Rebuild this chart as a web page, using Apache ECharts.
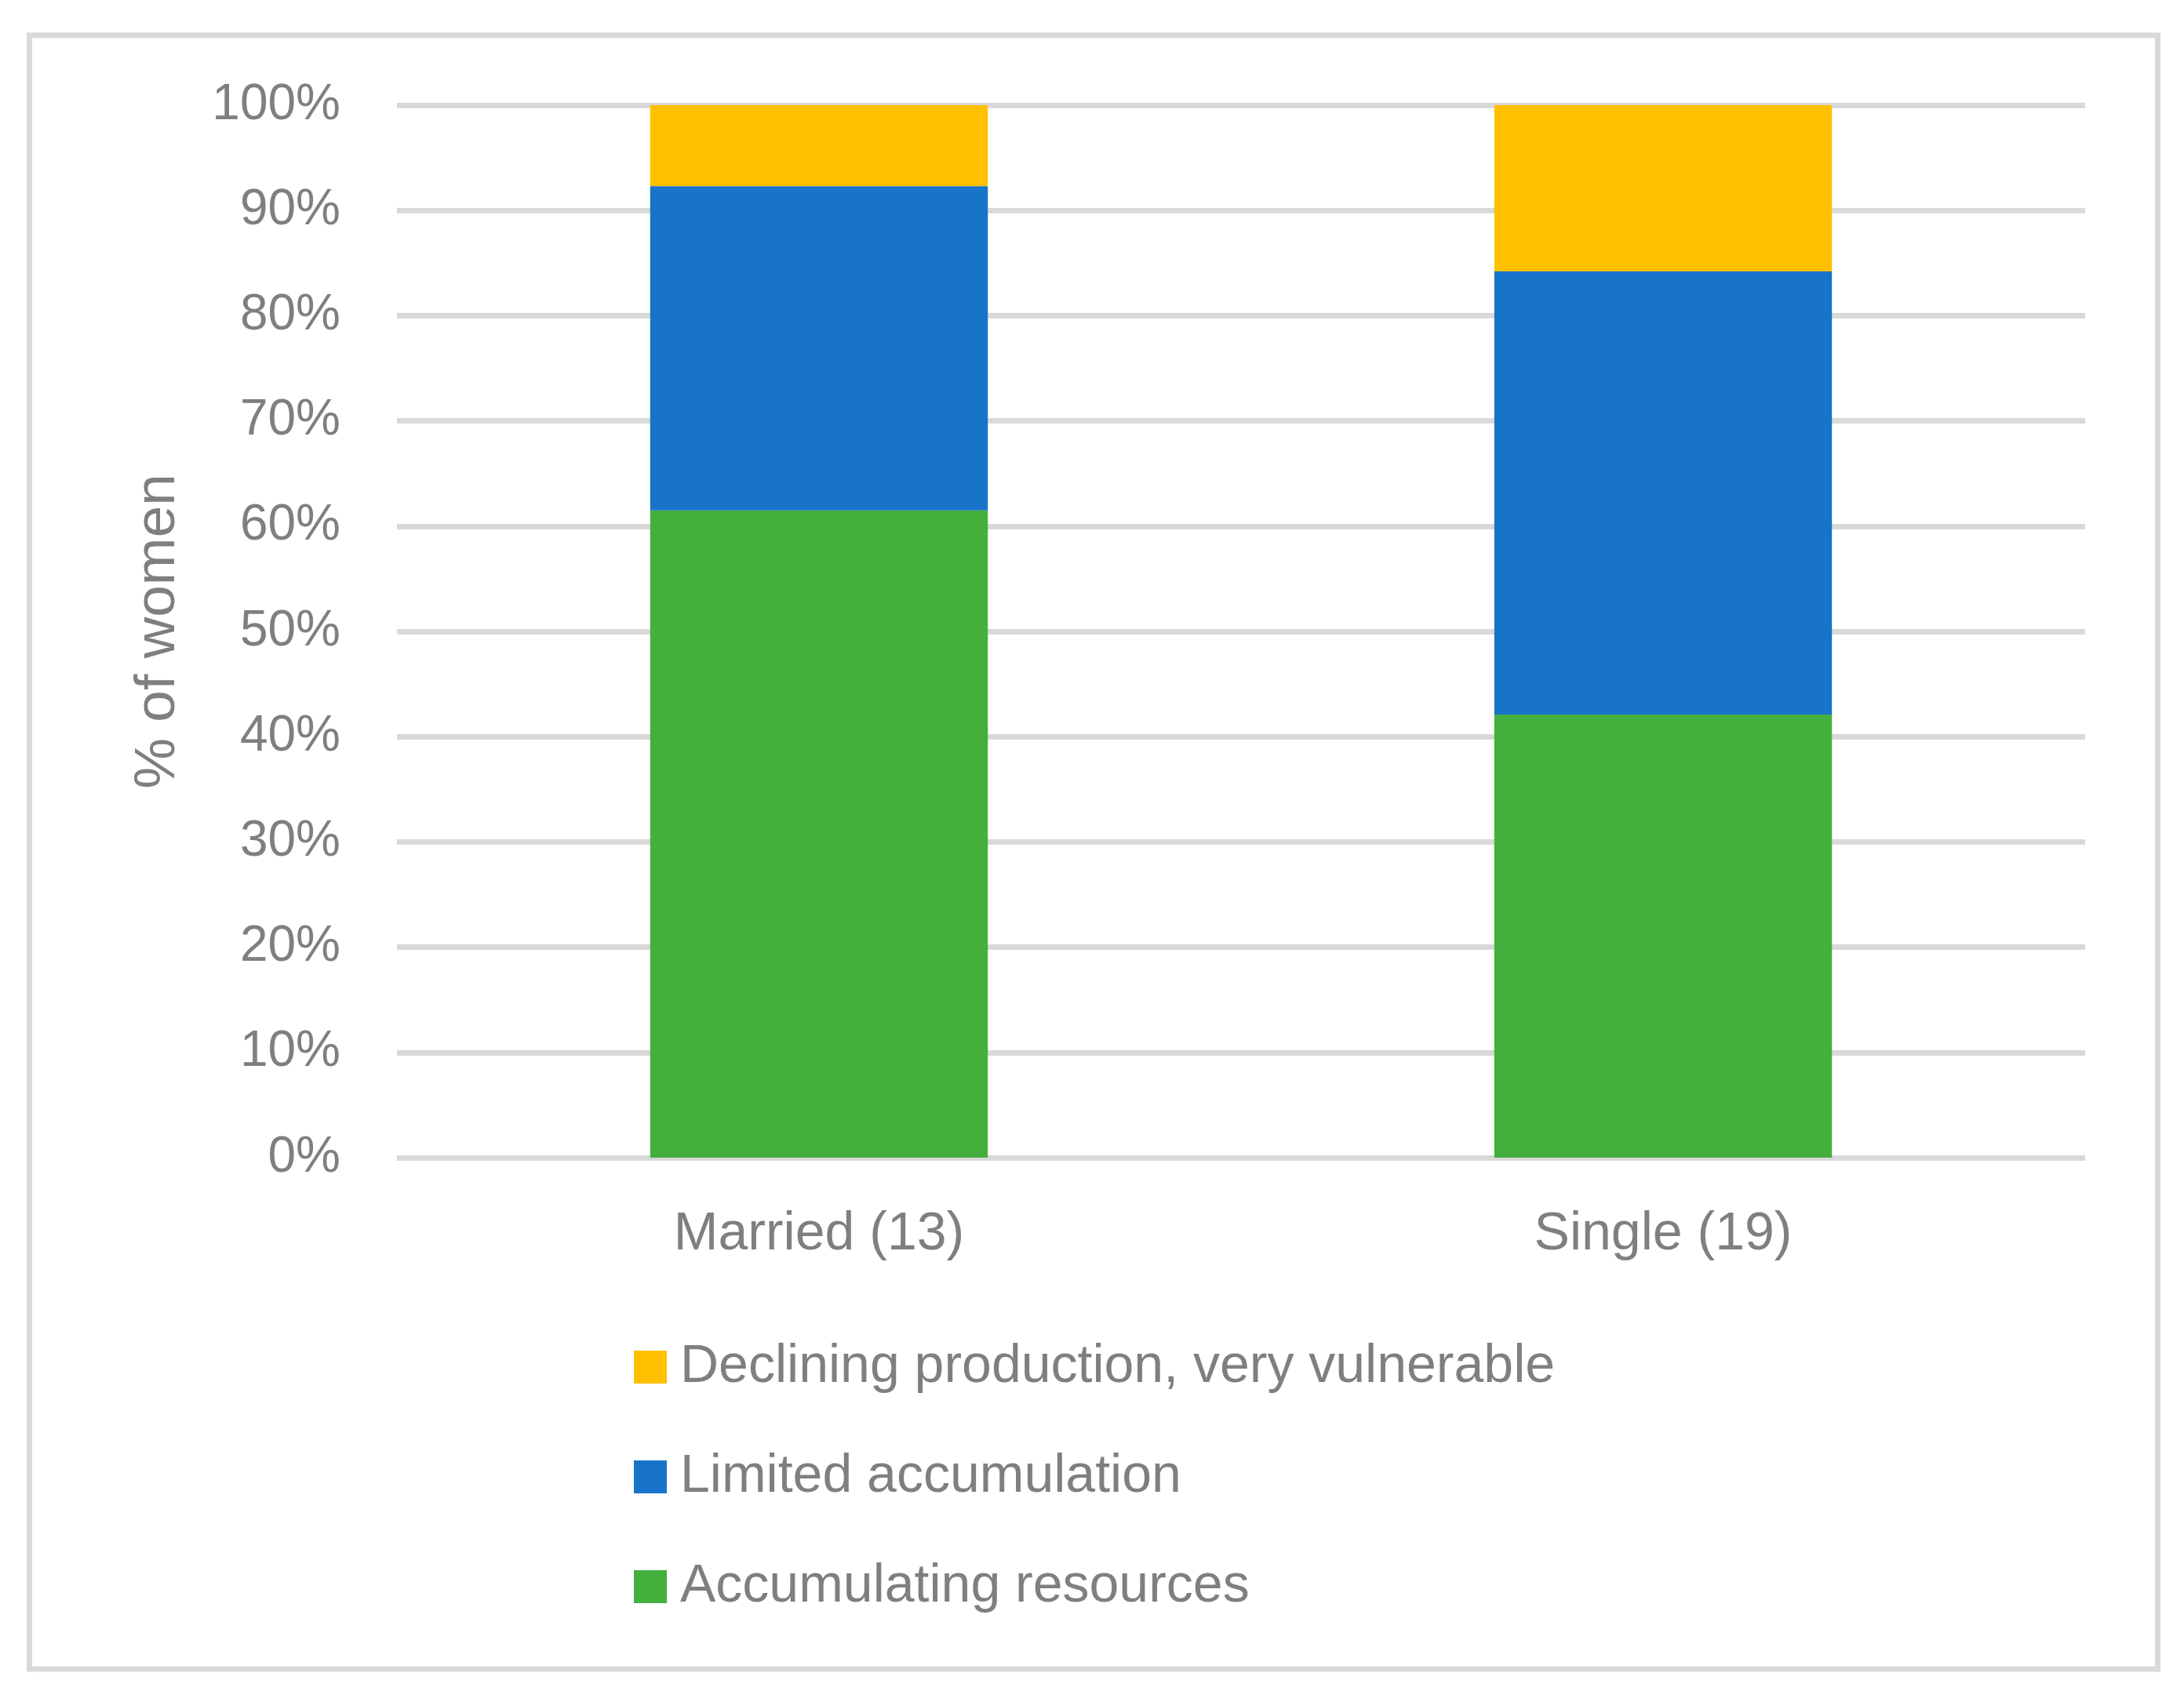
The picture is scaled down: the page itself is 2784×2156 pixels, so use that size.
<!DOCTYPE html>
<html>
<head>
<meta charset="utf-8">
<script src="https://cdn.jsdelivr.net/npm/echarts@6/dist/echarts.min.js"></script>
<style>
html,body{margin:0;padding:0;background:#fff;}
#c{width:2784px;height:2156px;}
</style>
</head>
<body>
<div id="c"></div>
<script>
const categories = ['Married (13)', 'Single (19)'];
const seriesNames = ['Accumulating resources', 'Limited accumulation', 'Declining production, very vulnerable'];
const accumulating = [61.5, 42.1];
const limited = [30.8, 42.1];
const declining = [7.7, 15.8];
const yTicks = [0, 10, 20, 30, 40, 50, 60, 70, 80, 90, 100];
const legendOrder = ['Declining production, very vulnerable', 'Limited accumulation', 'Accumulating resources'];
const colors = ['#44AF3D', '#1874C8', '#FFC000'];

const FONT = '"Liberation Sans", Arial, sans-serif';
const GRAY = '#7F7F7F';
const chart = echarts.init(document.getElementById('c'), null, {renderer: 'canvas'});
const values = [accumulating, limited, declining];

chart.setOption({
  backgroundColor: '#fff',
  animation: false,
  graphic: [{
    type: 'rect',
    shape: {x: 37.5, y: 45, width: 2713, height: 2083},
    style: {fill: 'none', stroke: '#D9D9D9', lineWidth: 7},
    z: -1
  }],
  grid: {left: 506, right: 126, top: 134, bottom: 680, containLabel: false},
  legend: {
    orient: 'vertical',
    left: 803,
    top: 1704,
    itemWidth: 42,
    itemHeight: 42,
    itemGap: 72,
    icon: 'rect',
    data: legendOrder,
    textStyle: {color: GRAY, fontFamily: FONT, fontSize: 68, lineHeight: 68, padding: [0, 0, 0, 12]}
  },
  xAxis: {
    type: 'category',
    data: categories,
    axisLine: {show: false},
    axisTick: {show: false},
    axisLabel: {color: GRAY, fontFamily: FONT, fontSize: 68, margin: 64}
  },
  yAxis: {
    type: 'value',
    min: yTicks[0],
    max: yTicks[yTicks.length - 1],
    interval: yTicks[1] - yTicks[0],
    name: '% of women',
    nameLocation: 'middle',
    nameGap: 268,
    nameTextStyle: {color: GRAY, fontFamily: FONT, fontSize: 73},
    axisLine: {show: false},
    axisTick: {show: false},
    splitLine: {lineStyle: {color: '#D9D9D9', width: 7}},
    axisLabel: {color: GRAY, fontFamily: FONT, fontSize: 64, margin: 72, formatter: v => v + '%'}
  },
  series: seriesNames.map((n, i) => ({
    name: n,
    type: 'bar',
    stack: 'total',
    barWidth: '40%',
    data: values[i],
    itemStyle: {color: colors[i]}
  }))
});
</script>
</body>
</html>
